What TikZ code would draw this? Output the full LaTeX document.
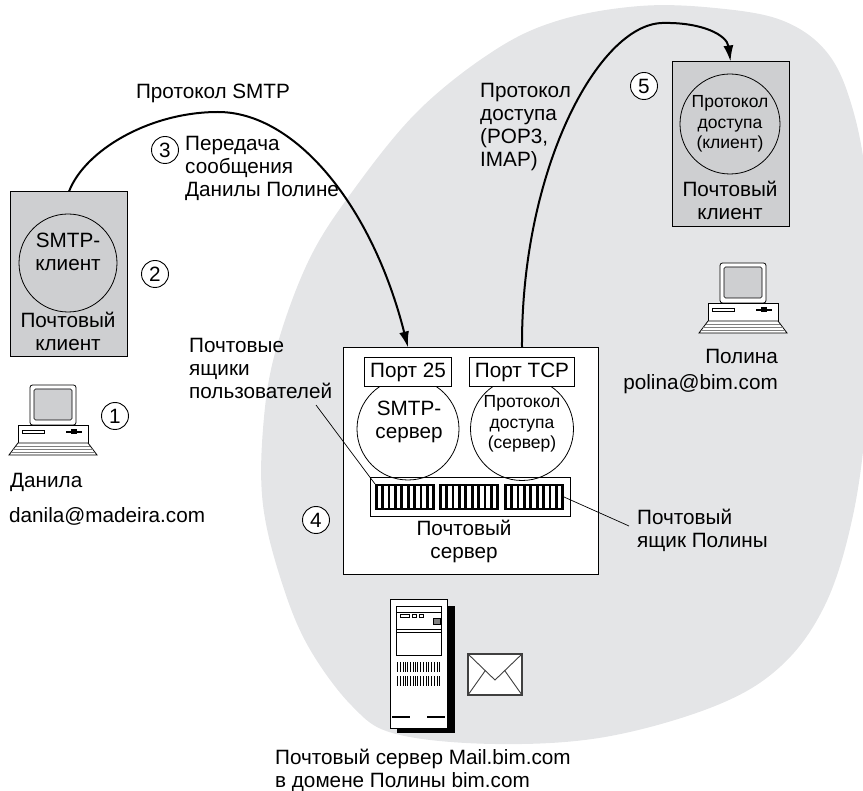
\documentclass[tikz,border=0pt]{standalone}
\usepackage{fontspec}
\setmainfont{Liberation Sans}
\usetikzlibrary{arrows.meta}
\definecolor{domaingray}{RGB}{228,229,231}
\definecolor{clientgray}{RGB}{206,207,209}
\newcommand\txtnormal{\fontsize{20.7}{23}\selectfont}
\newcommand\txtsmall{\fontsize{17.5}{20.5}\selectfont}

\tikzset{
  lbl/.style={inner sep=0pt, font=\txtnormal},
  slbl/.style={inner sep=0pt, font=\txtsmall},
  clientbox/.style={draw, fill=clientgray, line width=1pt, inner sep=0pt,
    minimum width=117pt, minimum height=165pt},
  proc/.style={circle, draw, line width=0.8pt, inner sep=0pt},
  portbox/.style={draw, fill=white, line width=1pt, inner sep=0pt,
    minimum height=29pt},
  stepnum/.style={circle, draw, fill=white, line width=0.9pt, inner sep=0pt,
    minimum size=27pt, font=\txtnormal},
  flow/.style={line width=2pt, -{Latex[length=16pt,width=10pt]}},
  leader/.style={line width=0.7pt},
  % a personal computer, origin at the top left corner of the monitor
  pc/.pic={
    \draw[line width=0.8pt, rounded corners=2.5pt, fill=white] (0,0) rectangle (46,40);
    \draw[line width=0.6pt, rounded corners=1.5pt, fill=clientgray] (4,4) rectangle (42,35);
    \draw[line width=0.8pt, fill=white] (-12,40) rectangle (58,58);
    \draw[line width=0.5pt] (-8,45) rectangle (14,48);
    \draw[line width=1.2pt] (36,47) -- (52,47);
    \fill (41,44.5) rectangle (47,49.5);
    \draw[line width=0.8pt, fill=white] (-12,58) -- (58,58) -- (67,70) -- (-21,70) -- cycle;
    \draw[line width=0.4pt, gray] (-14,61) -- (60,61) (-17,64.5) -- (63,64.5) (-19,67.5) -- (65,67.5);
  },
  % a mailbox of the server store, origin at its top left corner
  mailbox/.pic={
    \fill (0,0) rectangle (60,26);
    \foreach \i in {0,...,8} \fill[white] ({2.6+\i*6.4},2.4) rectangle ++(3.6,21.2);
    \coordinate (-nw) at (0,0);
    \coordinate (-e) at (60,13);
  }
}

\begin{document}
\begin{tikzpicture}[x=1pt, y=-1pt]
\useasboundingbox (0,0) rectangle (863,791);

% Polina's mail domain
\fill[domaingray] plot[smooth cycle, tension=0.6] coordinates {
  (495,50) (560,20) (640,6) (715,8) (781,20) (825,50) (850,100) (866,180)
  (870,300) (866,420) (852,520) (825,605) (781,666) (715,706) (605,737)
  (495,744) (396,734) (352,706) (308,646) (281,580) (263,505) (263,429)
  (275,353) (308,262) (352,192) (418,111)};

% ---- Danila's side ----
\node[clientbox] (lbox) at (69,274.5) {};
\node[proc, minimum size=98pt] (lproc) at (68,263) {};
\node[lbl, align=center] (lproctxt) at (68,252) {SMTP-\\клиент};
\node[lbl, align=center] (lboxtxt) at (68,331) {Почтовый\\клиент};
\node[stepnum] (s2) at (155,274) {2};

\pic (lpc) at (30,385) {pc};
\node[stepnum] (s1) at (115,416) {1};
\node[lbl, anchor=west] (dname) at (10,482) {Данила};
\node[lbl, anchor=west] (dmail) at (9,516) {danila@madeira.com};

% ---- mail server ----
\node[draw, fill=white, line width=1pt, minimum width=255pt, minimum height=227pt,
  inner sep=0pt] (srv) at (470.5,461.5) {};
\node[proc, minimum size=102pt] (smtpsrv) at (408,429) {};
\node[proc, minimum size=103pt] (accsrv) at (522,429) {};
\node[portbox, minimum width=87pt] (p25) at (408,372) {};
\node[lbl] (p25txt) at (408,372) {Порт 25};
\node[portbox, minimum width=105pt] (tcp) at (522,372) {};
\node[lbl] (tcptxt) at (522,372) {Порт TCP};
\node[lbl, align=center] (smtpsrvtxt) at (409,422) {SMTP-\\сервер};
\node[slbl, align=center] (accsrvtxt) at (522,424) {Протокол\\доступа\\(сервер)};

\node[draw, line width=1pt, minimum width=200pt, minimum height=39pt, inner sep=0pt]
  (store) at (470,497.5) {};
\pic (mb1) at (375,484) {mailbox};
\pic (mb2) at (439,484) {mailbox};
\pic (mb3) at (504,484) {mailbox};
\node[lbl, align=center] (srvtxt) at (464,541.5) {Почтовый\\сервер};
\node[stepnum] (s4) at (316,520) {4};

\node[lbl, anchor=west, align=left] (usrtxt)
  at (189,368) {Почтовые\\ящики\\пользователей};
\coordinate (usrend) at (316,405);
\draw[leader] (usrend) -- (mb1-nw);
\node[lbl, anchor=west, align=left] (pboxtxt) at (637,530.5) {Почтовый\\ящик Полины};
\coordinate (pboxend) at (629,526);
\draw[leader] (mb3-e) -- (pboxend);

% server hardware
\fill (397,606) rectangle (455,733);
\draw[line width=1pt, fill=white] (390,600) rectangle (447,728);
\draw[line width=0.8pt] (396,606) rectangle (441,655);
\draw[line width=0.6pt] (396,612) -- (441,612) (396,629) -- (441,629) (396,632) -- (441,632);
\draw[line width=0.6pt] (400,614) rectangle (409,617) (412,614) rectangle (416,617)
  (419,614) rectangle (423,617);
\draw[line width=0.5pt, fill=gray] (433,618) rectangle (440,624);
\foreach \y in {662,676}
  \foreach \x in {397,399.5,403,405,407,409.5,413,415,417,419.5,423,425.5,428,431,434,436.5,439}
    \fill (\x,\y) rectangle ++(1.3,10);
\draw[line width=2pt] (392,717) -- (410,717) (427,717) -- (445,717);
\draw[line width=1.6pt, draw=black!75, fill=white] (468,654) rectangle (522,695);
\draw[line width=0.9pt, draw=black!75] (468,654) -- (495,680) -- (522,654)
  (468,695) -- (485,671) (522,695) -- (505,671);
\node[lbl, anchor=west, align=left] (srvname) at (275,770.5)
  {Почтовый сервер Mail.bim.com\\в домене Полины bim.com};

% ---- Polina's side ----
\node[clientbox] (pbox) at (730.5,144.5) {};
\node[proc, minimum size=100pt] (pproc) at (730,124) {};
\node[slbl, align=center] (pproctxt) at (730,124) {Протокол\\доступа\\(клиент)};
\node[lbl, align=center] (pboxlbl) at (730,200.5) {Почтовый\\клиент};
\node[stepnum] (s5) at (644,86) {5};
\pic (ppc) at (720,263) {pc};
\node[lbl, anchor=east] (pname) at (778,356) {Полина};
\node[lbl, anchor=east] (pmail) at (778,384) {polina@bim.com};

% ---- message flows ----
\draw[flow] (lbox.north) .. controls (85,150) and (150,112) .. (218,112)
  .. controls (295,112) and (372,205) .. (srv.north -| p25);
\node[lbl] (smtplbl) at (213,93) {Протокол SMTP};
\node[stepnum] (s3) at (165,150) {3};
\node[lbl, anchor=west, align=left] (s3txt) at (185,168.5)
  {Передача\\сообщения\\Данилы Полине};

\draw[flow] (srv.north -| tcp) .. controls (521,170) and (598,25) .. (662,23)
  .. controls (702,22) and (727,35) .. (pbox.north);
\node[lbl, anchor=west, align=left] (acclbl) at (480,127)
  {Протокол\\доступа\\(POP3,\\IMAP)};
\end{tikzpicture}
\end{document}
